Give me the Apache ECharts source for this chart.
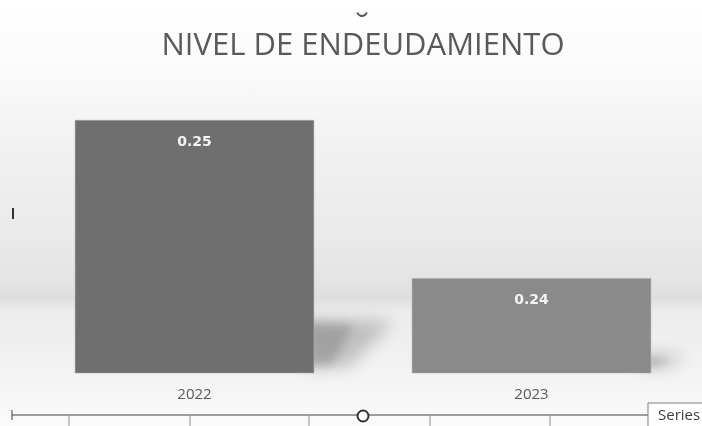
<!DOCTYPE html>
<html>
<head>
<meta charset="utf-8">
<script src="https://cdn.jsdelivr.net/npm/echarts@6/dist/echarts.min.js"></script>
<style>
  html, body { margin: 0; padding: 0; background: #fff; }
  #main {
    width: 702px; height: 426px;
    background: linear-gradient(to bottom, #ffffff 0%, #fbfbfb 15%, #f1f1f1 35%, #eaeaea 55%, #e4e4e4 66%, #dedede 70%, #ececec 73%, #efefef 80%, #f4f4f4 90%, #fbfbfb 100%);
  }
</style>
</head>
<body>
<div id="main"></div>
<script>
// datos del grafico
var years = ['2022', '2023']
var ratios = [0.25, 0.24]
var seriesName = 'Series1'
var titleText = 'NIVEL DE ENDEUDAMIENTO'

// rango del eje y (oculto) para que las barras tengan la altura del original
var yMin = 0.234
var yMax = 0.25253

var barColors = ['#6f6f6f', '#8a8a8a']
var font = 'Open Sans'

var chart = echarts.init(document.getElementById('main'))

// desplazamiento para dibujar solo la sombra difusa (la forma queda fuera)
var OFF = 3000

chart.setOption({
  backgroundColor: 'transparent',
  animation: false,
  title: {
    text: titleText,
    left: 358,
    textAlign: 'center',
    top: 26,
    textStyle: {
      fontFamily: font,
      fontWeight: 'normal',
      fontSize: 31,
      color: '#595959'
    }
  },
  legend: {
    data: [seriesName],
    left: 648,
    top: 403,
    orient: 'horizontal',
    itemWidth: 0,
    itemHeight: 0,
    itemGap: 0,
    padding: [5, 6],
    borderColor: '#7f7f7f',
    borderWidth: 1,
    backgroundColor: '#ffffff',
    borderRadius: 0,
    textStyle: { fontFamily: font, fontSize: 15, color: '#404040', padding: [0, 0, 0, -2] }
  },
  grid: {
    left: 26,
    right: 2,
    top: 80,
    bottom: 53
  },
  xAxis: {
    type: 'category',
    data: years,
    axisLine: { show: false },
    axisTick: { show: false },
    axisLabel: {
      margin: 14,
      fontFamily: font,
      fontSize: 15,
      color: '#595959'
    }
  },
  yAxis: {
    type: 'value',
    min: yMin,
    max: yMax,
    show: false,
    splitLine: { show: false }
  },
  series: [
    {
      // sombra en el piso detras de cada barra
      type: 'custom',
      z: 1,
      silent: true,
      clip: false,
      data: ratios.map(function (v, i) { return [i, v] }),
      renderItem: function (params, api) {
        var top = api.coord([api.value(0), api.value(1)])
        var base = api.coord([api.value(0), yMin])
        var w = api.size([1, 0])[0] * 0.71
        var xr = top[0] + w / 2 - OFF
        var yb = base[1]
        var h = yb - top[1]
        var s = 0.22 * h + 5
        var d = 0.3 * h + 12
        var st = function (alpha, blur) {
          return {
            fill: '#000',
            shadowBlur: blur,
            shadowColor: 'rgba(0,0,0,' + alpha + ')',
            shadowOffsetX: OFF,
            shadowOffsetY: 0
          }
        }
        return {
          type: 'group',
          children: [
            {
              type: 'polygon',
              shape: {
                points: [
                  [xr - 10, yb - 4],
                  [xr - 10, yb - s + 6],
                  [xr + d * 0.9, yb - s + 9],
                  [xr + d * 0.4, yb - 6]
                ]
              },
              style: st(0.2, 16)
            },
            {
              type: 'polygon',
              shape: {
                points: [
                  [xr - 10, yb - 6],
                  [xr - 10, yb - s + 10],
                  [xr + d * 0.45, yb - s + 12],
                  [xr + d * 0.2, yb - 8]
                ]
              },
              style: st(0.16, 10)
            }
          ]
        }
      }
    },
    {
      name: seriesName,
      type: 'bar',
      z: 2,
      barWidth: '71%',
      data: ratios.map(function (v, i) {
        return { value: v, itemStyle: { color: barColors[i] } }
      }),
      itemStyle: {
        borderColor: '#a6a6a6',
        borderWidth: 0.5
      },
      label: {
        show: true,
        position: 'insideTop',
        distance: 15,
        formatter: function (p) { return p.value.toFixed(2) },
        fontFamily: 'DejaVu Sans',
        fontWeight: 'bold',
        fontSize: 14,
        color: '#f4f4f4'
      }
    }
  ],
  graphic: [
    // borde inferior del marco con marcas y el asa de seleccion
    { type: 'line', shape: { x1: 12, y1: 415, x2: 648, y2: 415 }, style: { stroke: '#404040', lineWidth: 1 } },
    { type: 'line', shape: { x1: 12, y1: 410, x2: 12, y2: 420 }, style: { stroke: '#404040', lineWidth: 1 } },
    { type: 'line', shape: { x1: 69, y1: 415, x2: 69, y2: 426 }, style: { stroke: '#8f8f8f', lineWidth: 1 } },
    { type: 'line', shape: { x1: 190, y1: 415, x2: 190, y2: 426 }, style: { stroke: '#8f8f8f', lineWidth: 1 } },
    { type: 'line', shape: { x1: 309, y1: 415, x2: 309, y2: 426 }, style: { stroke: '#8f8f8f', lineWidth: 1 } },
    { type: 'line', shape: { x1: 430, y1: 415, x2: 430, y2: 426 }, style: { stroke: '#8f8f8f', lineWidth: 1 } },
    { type: 'line', shape: { x1: 550, y1: 415, x2: 550, y2: 426 }, style: { stroke: '#8f8f8f', lineWidth: 1 } },
    { type: 'circle', shape: { cx: 363, cy: 416, r: 5.5 }, style: { fill: '#ffffff', stroke: '#333333', lineWidth: 2 } },
    { type: 'arc', shape: { cx: 362, cy: 11, r: 5, startAngle: 0.3, endAngle: Math.PI - 0.3 }, style: { stroke: '#555555', lineWidth: 2, fill: null } },
    { type: 'line', shape: { x1: 13, y1: 208, x2: 13, y2: 219 }, style: { stroke: '#333333', lineWidth: 2 } }
  ]
})

window.addEventListener('resize', function () {
  chart.resize()
})
</script>
</body>
</html>
